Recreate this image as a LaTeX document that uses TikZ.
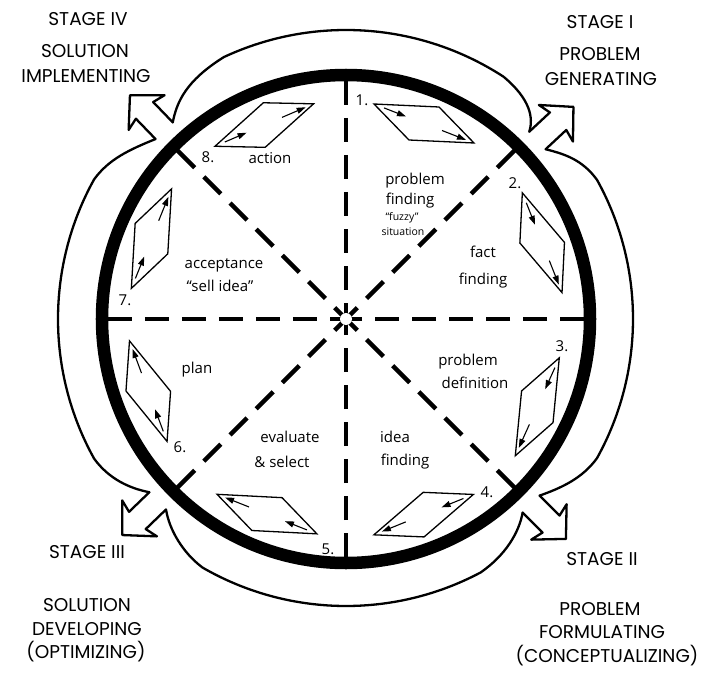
\documentclass[tikz,border=0pt]{standalone}
\usepackage{fontspec}
\setmainfont{Open Sans}
\newfontfamily\stagefont{Poppins}
\usetikzlibrary{arrows.meta}
\begin{document}
\begin{tikzpicture}[x=1pt,y=1pt,
  stagetext/.style={font=\stagefont\fontsize{18.5}{18.5}\selectfont, inner sep=0pt},
  innertext/.style={font=\fontsize{15}{15}\selectfont, inner sep=0pt},
  smalltext/.style={font=\fontsize{10.5}{10.5}\selectfont, inner sep=0pt},
  numtext/.style={font=\fontsize{15}{15}\selectfont, inner sep=0pt},
  ringline/.style={line width=12.5pt},
  radial/.style={line width=4.5pt, dash pattern=on 24pt off 13pt},
  rhomb/.style={line width=1.3pt, line join=miter},
  flowarrow/.style={line width=1.1pt, -{Triangle[length=9pt,width=6pt]}},
  outerline/.style={line width=2.3pt, line cap=round, line join=round},
]
\useasboundingbox (-346,-353) rectangle (360,319);
\fill[white] (-346,-353) rectangle (360,319);

% thick ring
\draw[ringline] (0,0) circle[radius=244];
\coordinate (c) at (0,0);

% radial dashed lines, drawn from the ring inward
\foreach \a in {0,45,...,315}{
  \draw[radial] (\a:238) -- (c);
}
\fill[white] (c) circle[radius=6];

% rhombi with flow arrows (rotation of step 1's rhombus)
\foreach \r in {0,-47,-92.9,-136.6,-180.3,-228.2,-270.7,-315.4}{
  \begin{scope}[rotate=\r]
    \draw[rhomb] (28,215) -- (93,212) -- (128,176) -- (63,179) -- cycle;
    \draw[flowarrow] (38,211.1) -- (60,202.5);
    \draw[flowarrow] (96,188.5) -- (120,179.1);
  \end{scope}
}

% outward hollow arrows at the stage boundaries
\foreach \t in {43,-45,-136,134}{
  \begin{scope}[rotate=\t]
    \draw[outerline] (262,12) -- (290,12) -- (287,25) -- (311,0) -- (287,-25) -- (290,-12) -- (262,-12);
  \end{scope}
}

% outer stage arcs
\draw[outerline] (131.4:262) .. controls (128:275) and (124:287) .. (115:289)
  arc[start angle=115,end angle=57,radius=289]
  .. controls (50:287) and (47:275) .. (45.6:262);
\draw[outerline] (40.4:262) .. controls (37:274) and (34:285) .. (29:287)
  arc[start angle=29,end angle=-29,radius=287]
  .. controls (-34:285) and (-38:274) .. (-42.4:262);
\draw[outerline] (-47.6:262) .. controls (-51:275) and (-56:285) .. (-62:287)
  arc[start angle=-62,end angle=-120,radius=287]
  .. controls (-125:285) and (-130:275) .. (-133.4:262);
\draw[outerline] (-138.6:262) .. controls (-142:275) and (-146:286) .. (-151:288)
  arc[start angle=-151,end angle=-209,radius=288]
  .. controls (-214:286) and (-218:275) .. (-223.4:262);

% step numbers
\node[numtext] (n1) at (16,219) {1.};
\node[numtext] (n2) at (169,136) {2.};
\node[numtext] (n3) at (216,-27) {3.};
\node[numtext] (n4) at (141,-173) {4.};
\node[numtext] (n5) at (-18,-230) {5.};
\node[numtext] (n6) at (-166,-128) {6.};
\node[numtext] (n7) at (-221,19) {7.};
\node[numtext] (n8) at (-138,162) {8.};

% sector texts
\node[innertext] (t8) at (-76,161) {action};
\node[innertext] (t1a) at (69,138) {problem};
\node[innertext] (t1b) at (64,118) {finding};
\node[smalltext] (t1c) at (56,101) {“fuzzy”};
\node[smalltext] (t1d) at (57,87) {situation};
\node[innertext] (t2a) at (137,67) {fact};
\node[innertext] (t2b) at (137,38) {finding};
\node[innertext] (t3a) at (122,-43) {problem};
\node[innertext] (t3b) at (129,-64) {definition};
\node[innertext] (t4a) at (49,-118) {idea};
\node[innertext] (t4b) at (59,-143) {finding};
\node[innertext] (t5a) at (-56,-118) {evaluate};
\node[innertext] (t5b) at (-64,-143) {\& select};
\node[innertext] (t6) at (-149,-51) {plan};
\node[innertext] (t7a) at (-122,54) {acceptance};
\node[innertext] (t7b) at (-126,33) {“sell idea”};

% stage texts
\node[stagetext] (s4a) at (-258,300) {STAGE IV};
\node[stagetext] (s4b) at (-261,268) {SOLUTION};
\node[stagetext] (s4c) at (-260,243) {IMPLEMENTING};
\node[stagetext] (s1a) at (254,297) {STAGE I};
\node[stagetext] (s1b) at (254,265) {PROBLEM};
\node[stagetext] (s1c) at (255,240) {GENERATING};
\node[stagetext] (s2a) at (256,-240) {STAGE II};
\node[stagetext] (s2b) at (254,-290) {PROBLEM};
\node[stagetext] (s2c) at (256,-313) {FORMULATING};
\node[stagetext] (s2d) at (261,-337) {(CONCEPTUALIZING)};
\node[stagetext] (s3a) at (-259,-233) {STAGE III};
\node[stagetext] (s3b) at (-259,-286) {SOLUTION};
\node[stagetext] (s3c) at (-259,-310) {DEVELOPING};
\node[stagetext] (s3d) at (-260,-333) {(OPTIMIZING)};
\end{tikzpicture}
\end{document}
